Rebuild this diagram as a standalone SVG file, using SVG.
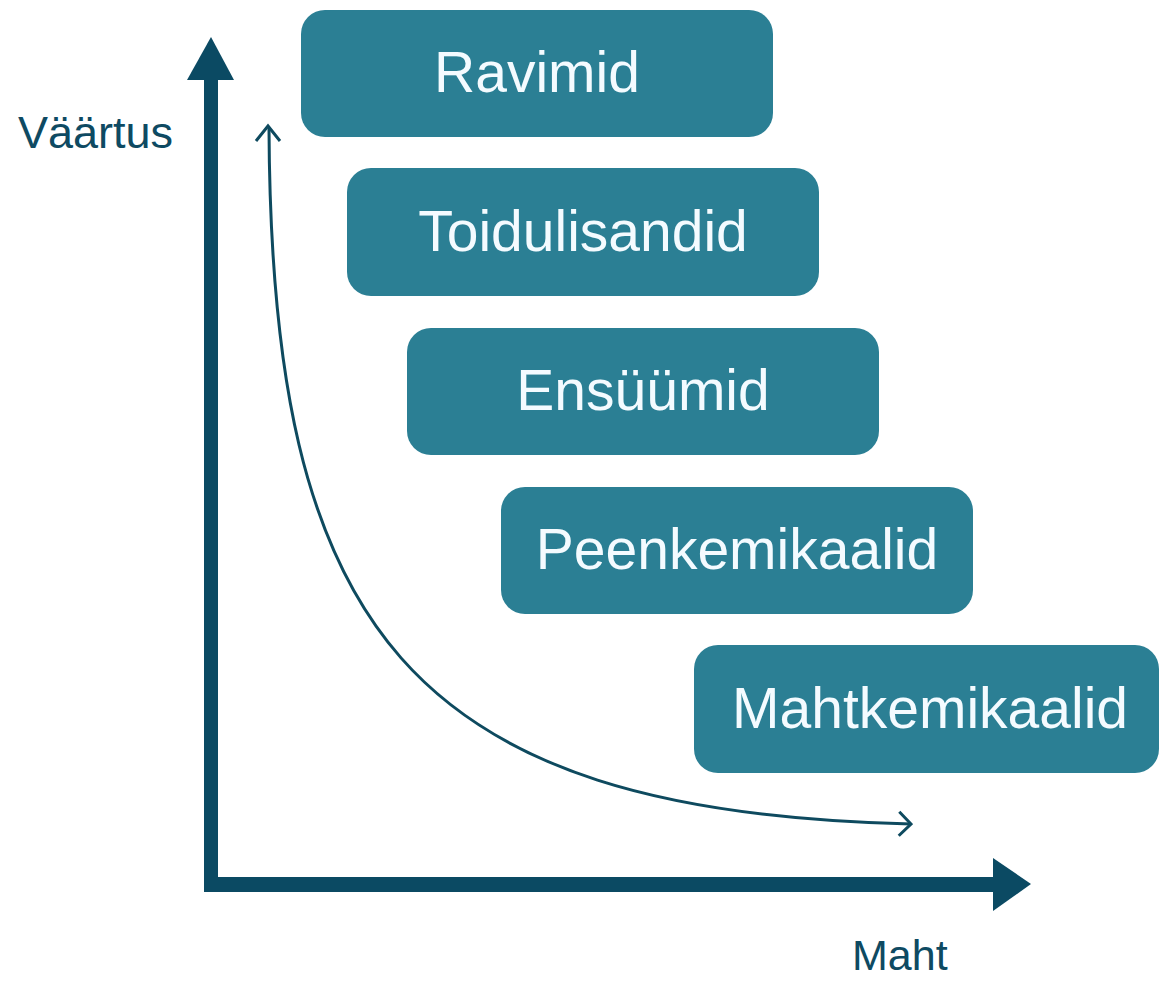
<svg xmlns="http://www.w3.org/2000/svg" width="1159" height="982" viewBox="0 0 1159 982">
<style>
.box{fill:#2b7f94}
.lbl{font-family:"Liberation Sans",Arial,sans-serif;font-size:57px;fill:#f4fbff;text-anchor:middle}
.axl{font-family:"Liberation Sans",Arial,sans-serif;font-size:45px;fill:#0e4a62}
.axis{fill:#0b4a63}
.crv{fill:none;stroke:#0e4a5f;stroke-width:3}
</style>
<defs>
<marker id="chev" viewBox="0 0 16 28" refX="14" refY="14" markerWidth="16" markerHeight="28" markerUnits="userSpaceOnUse" orient="auto">
<path d="M2,2 L14,14 L2,26" fill="none" stroke="#0e4a5f" stroke-width="3"/>
</marker>
</defs>
<rect width="1159" height="982" fill="#ffffff"/>
<g id="axes">
<rect class="axis" x="204" y="76" width="14" height="816"/>
<polygon class="axis" points="187,80 211,37 234,80"/>
<rect class="axis" x="204" y="877" width="792" height="15"/>
<polygon class="axis" points="993,858 1031,884 993,911"/>
<text class="axl" x="18" y="148">Väärtus</text>
<text class="axl" x="852" y="970" style="font-size:43px">Maht</text>
</g>
<g id="connectors">
<path class="crv" d="M269,128 C271,625 405,812 911,824" marker-end="url(#chev)"/>
<path class="crv" d="M280,141 L268,126 L256,141"/>
</g>
<g id="n1"><rect class="box" x="301" y="10" width="472" height="127" rx="24"/><text class="lbl" x="537" y="92">Ravimid</text></g>
<g id="n2"><rect class="box" x="347" y="168" width="472" height="128" rx="24"/><text class="lbl" x="583" y="251">Toidulisandid</text></g>
<g id="n3"><rect class="box" x="407" y="328" width="472" height="127" rx="24"/><text class="lbl" x="643" y="410">Ensüümid</text></g>
<g id="n4"><rect class="box" x="501" y="487" width="472" height="127" rx="24"/><text class="lbl" x="737" y="569">Peenkemikaalid</text></g>
<g id="n5"><rect class="box" x="694" y="645" width="465" height="128" rx="24"/><text class="lbl" x="930" y="728">Mahtkemikaalid</text></g>
</svg>
